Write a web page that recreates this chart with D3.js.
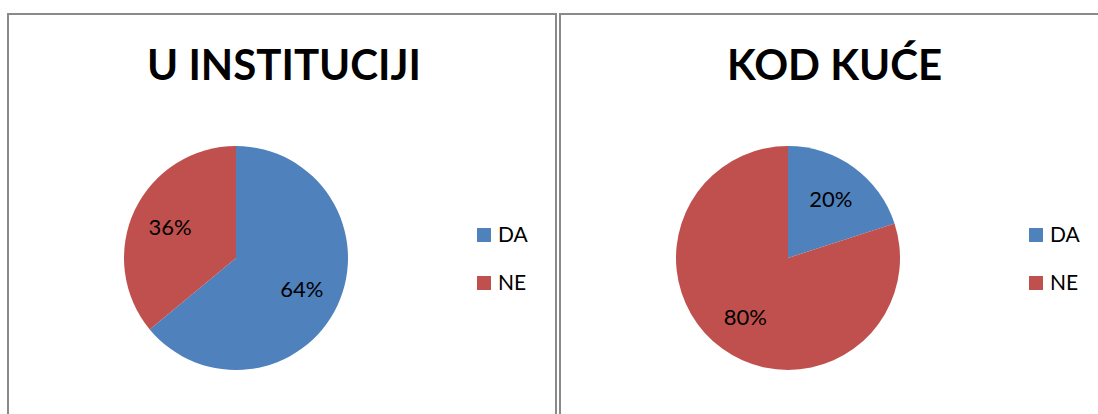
<!DOCTYPE html>
<html><head><meta charset="utf-8">
<script src="https://cdn.jsdelivr.net/npm/d3@7"></script>
<style>body{margin:0;background:#fff}svg{display:block}</style>
</head><body>
<svg id="c" width="1098" height="414"></svg>
<script>
const categories = ["DA", "NE"];
const titles = ["U INSTITUCIJI", "KOD KUĆE"];
const valuesInstitution = [64, 36];
const valuesHome = [20, 80];
const colors = ["#4F81BD", "#C0504D"];

const svg = d3.select("#c");
const font = "Lato, 'Open Sans', sans-serif";

const panels = [
  {x: 8, w: 548, title: titles[0], values: valuesInstitution, cx: 236, lx: 477},
  {x: 560, w: 545, title: titles[1], values: valuesHome, cx: 788, lx: 1029}
];
const pie = d3.pie().sort(null).value(d => d);
const r = 112;
const arc = d3.arc().innerRadius(0).outerRadius(r);
const labelArc = d3.arc().innerRadius(r*0.65).outerRadius(r*0.65);
const color = d3.scaleOrdinal().domain(categories).range(colors);

panels.forEach(p => {
  svg.append("rect").attr("x", p.x).attr("y", 14).attr("width", p.w).attr("height", 420)
    .attr("fill", "none").attr("stroke", "#8a8a8a").attr("stroke-width", 2);
  svg.append("text").attr("x", p.x + p.w/2 + 2).attr("y", 80).attr("text-anchor", "middle")
    .attr("font-family", font).attr("font-weight", "bold").attr("font-size", 42)
    .attr("fill", "#000").text(p.title);
  const g = svg.append("g").attr("transform", `translate(${p.cx},258)`);
  const arcs = pie(p.values);
  g.selectAll("path").data(arcs).join("path")
    .attr("d", arc).attr("fill", (d,i) => color(categories[i]));
  g.selectAll("text").data(arcs).join("text")
    .attr("transform", d => `translate(${labelArc.centroid(d)})`)
    .attr("text-anchor", "middle").attr("dy", "0.35em")
    .attr("font-family", font).attr("font-size", 22).attr("fill", "#000")
    .text(d => d.data + "%");
  const lg = svg.append("g");
  categories.forEach((c, i) => {
    lg.append("rect").attr("x", p.lx).attr("y", 228 + i*48).attr("width", 14).attr("height", 14)
      .attr("fill", color(c));
    lg.append("text").attr("x", p.lx + 21).attr("y", 235 + i*48).attr("dy", "0.35em")
      .attr("font-family", font).attr("font-size", 21).attr("fill", "#000").text(c);
  });
});
</script>
</body></html>
